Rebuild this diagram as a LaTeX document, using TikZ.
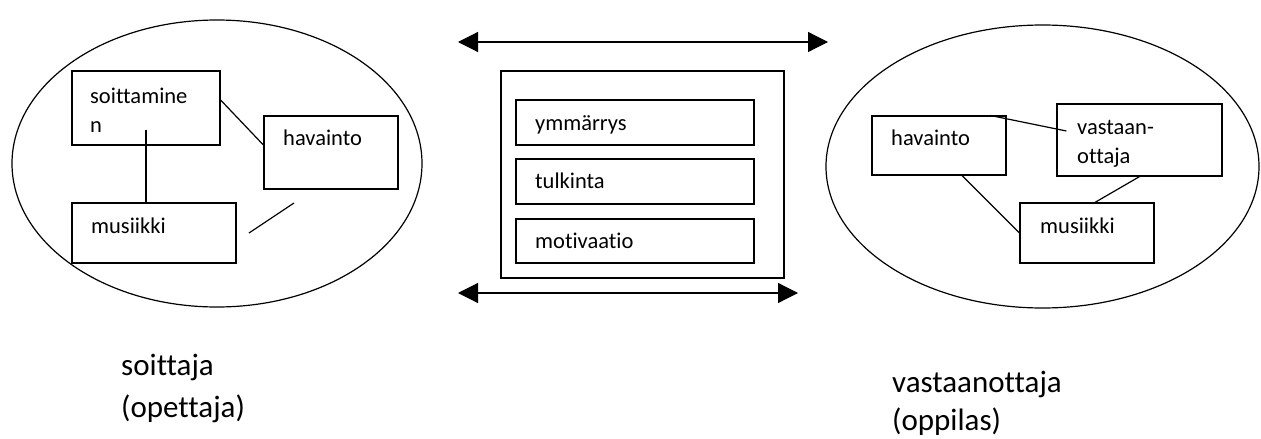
\documentclass[tikz,border=0pt]{standalone}
\usepackage{fontspec}
\setmainfont[Ligatures=NoCommon]{Carlito}
\usetikzlibrary{shapes.geometric,arrows.meta}
\begin{document}
\begin{tikzpicture}[x=1pt,y=-1pt,
  ln/.style={line width=1.2pt},
  box/.style={draw,ln,rectangle,inner sep=0pt},
  oval/.style={draw,ln,ellipse,inner sep=0pt},
  lbl/.style={anchor=base west,inner sep=0pt,font=\fontsize{22.5}{27}\selectfont},
  big/.style={anchor=base west,inner sep=0pt,font=\fontsize{31}{37}\selectfont},
  dbl/.style={ln,{Triangle[length=20pt,width=20pt]}-{Triangle[length=20pt,width=20pt]}}
]
\useasboundingbox (0,0) rectangle (1261,439);
% left
\node[oval,minimum width=410pt,minimum height=287pt] (E1) at (217,163.5) {};
\node[box,minimum width=148pt,minimum height=74pt] (s1) at (146,108) {};
\node[box,minimum width=134pt,minimum height=73pt] (h1) at (331,152.5) {};
\node[box,minimum width=164pt,minimum height=60pt] (m1) at (154,233) {};
\node[lbl] (ts1a) at (90,103) {soittamine};
\node[lbl] (ts1b) at (90,132) {n};
\node[lbl] (th1) at (283,145) {havainto};
\node[lbl] (tm1) at (91,233) {musiikki};
\draw[ln] ([yshift=8pt]s1.east) -- ([yshift=7.5pt]h1.west);
\draw[ln] ([yshift=-22pt]s1.center) -- (s1.center |- m1.north);
\coordinate (f1) at (249,233);
\coordinate (f2) at (294,203);
\draw[ln] (f1) -- (f2);
% middle
\coordinate (a1) at (458,42);
\coordinate (a2) at (828,42);
\coordinate (b1) at (458,293);
\coordinate (b2) at (798,293);
\draw[dbl] (a1) -- (a2);
\draw[dbl] (b1) -- (b2);
\node[box,minimum width=283pt,minimum height=207pt] (out) at (642.5,174.5) {};
\node[box,minimum width=238pt,minimum height=45pt] (y) at (635,122.5) {};
\node[box,minimum width=238pt,minimum height=45pt] (t) at (635,181.5) {};
\node[box,minimum width=238pt,minimum height=44pt] (mo) at (635,241) {};
\node[lbl] (ty) at (535,130) {ymmärrys};
\node[lbl] (tt) at (535,188) {tulkinta};
\node[lbl] (tmo) at (535,248) {motivaatio};
% right
\node[oval,minimum width=433pt,minimum height=283pt] (E2) at (1042.5,166.5) {};
\node[box,minimum width=134pt,minimum height=59pt] (h2) at (939,145.5) {};
\node[box,minimum width=165pt,minimum height=72pt] (v2) at (1139.5,140) {};
\node[box,minimum width=134pt,minimum height=60pt] (m2) at (1087,233) {};
\node[lbl] (th2) at (891,145) {havainto};
\node[lbl] (tv2a) at (1077,134) {vastaan-};
\node[lbl] (tv2b) at (1077,163) {ottaja};
\node[lbl] (tm2) at (1040,233) {musiikki};
\draw[ln] ([xshift=51pt]h2.north) -- ([xshift=10pt,yshift=9pt]v2.west);
\draw[ln] ([xshift=23pt]h2.south) -- (m2.west);
\draw[ln] (v2.south) -- ([xshift=8pt]m2.north);
% bottom labels
\node[big] (L1a) at (121,375) {soittaja};
\node[big] (L1b) at (121,417) {(opettaja)};
\node[big] (L2a) at (892,392) {vastaanottaja};
\node[big] (L2b) at (892,430) {(oppilas)};
\end{tikzpicture}
\end{document}
